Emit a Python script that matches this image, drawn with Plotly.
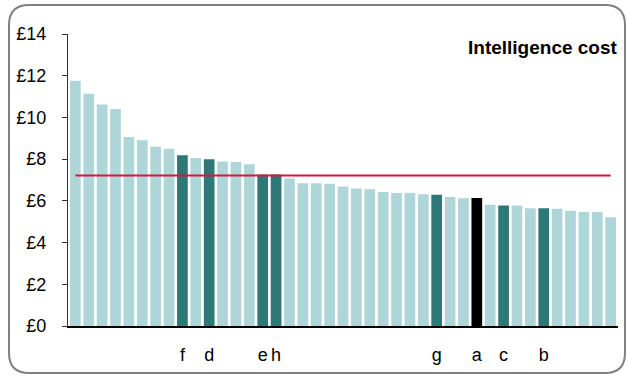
from plotly import graph_objects as go

# Cost per bar, sorted descending
costs = [
    11.76, 11.14, 10.62, 10.40, 9.06, 8.90, 8.59, 8.50, 8.19, 8.05,
    8.00, 7.89, 7.86, 7.76, 7.26, 7.26, 7.07, 6.85, 6.85, 6.82,
    6.69, 6.59, 6.56, 6.42, 6.38, 6.38, 6.32, 6.29, 6.18, 6.13,
    6.14, 5.81, 5.78, 5.78, 5.65, 5.65, 5.62, 5.52, 5.47, 5.47,
    5.22,
]
# Letter shown under highlighted bars ("" = none)
labels = [
    "", "", "", "", "", "", "", "", "f", "",
    "d", "", "", "", "e", "h", "", "", "", "",
    "", "", "", "", "", "", "", "g", "", "",
    "a", "", "c", "", "", "b", "", "", "", "",
    "",
]
# Highlight group: 0 = other, 1 = peer, 2 = selected
groups = [
    0, 0, 0, 0, 0, 0, 0, 0, 1, 0,
    1, 0, 0, 0, 1, 1, 0, 0, 0, 0,
    0, 0, 0, 0, 0, 0, 0, 1, 0, 0,
    2, 0, 1, 0, 0, 1, 0, 0, 0, 0,
    0,
]
average = 7.22
y_ticks = [0, 2, 4, 6, 8, 10, 12, 14]

group_colors = {0: "#AED5D8", 1: "#2E7878", 2: "#000000"}
positions = list(range(len(costs)))
bar_colors = [group_colors[g] for g in groups]

fig = go.Figure()
fig.add_trace(
    go.Bar(
        x=positions,
        y=costs,
        marker=dict(color=bar_colors, line=dict(width=0)),
        showlegend=False,
        hoverinfo="y",
    )
)
fig.add_trace(
    go.Scatter(
        x=[positions[0], positions[-1]],
        y=[average, average],
        mode="lines",
        line=dict(color="#DC143C", width=2),
        showlegend=False,
        hoverinfo="skip",
    )
)

tick_pos = [p for p, t in zip(positions, labels) if t]
tick_txt = [t for t in labels if t]

# plot area in pixels: x 68..618, y 34..326
L, R, T, B = 68, 618, 34, 326
W, H = R - L, B - T


def px(x):
    return (x - L) / W


def py(y):
    return (B - y) / H


# rounded frame around the whole chart
fx0, fx1, fy0, fy1, r = 9, 625, 5, 373, 20
path = (
    f"M {px(fx0 + r)},{py(fy0)} L {px(fx1 - r)},{py(fy0)} "
    f"Q {px(fx1)},{py(fy0)} {px(fx1)},{py(fy0 + r)} "
    f"L {px(fx1)},{py(fy1 - r)} Q {px(fx1)},{py(fy1)} {px(fx1 - r)},{py(fy1)} "
    f"L {px(fx0 + r)},{py(fy1)} Q {px(fx0)},{py(fy1)} {px(fx0)},{py(fy1 - r)} "
    f"L {px(fx0)},{py(fy0 + r)} Q {px(fx0)},{py(fy0)} {px(fx0 + r)},{py(fy0)} Z"
)

fig.update_layout(
    width=628,
    height=376,
    margin=dict(l=L, r=628 - R, t=T, b=376 - B),
    plot_bgcolor="white",
    paper_bgcolor="white",
    bargap=0.2,
    font=dict(family="Liberation Sans, Arial, sans-serif", color="black", size=18),
    xaxis=dict(
        range=[-0.55, len(costs) - 0.45],
        showgrid=False,
        zeroline=False,
        showline=True,
        linecolor="black",
        linewidth=1.5,
        tickmode="array",
        tickvals=tick_pos,
        ticktext=tick_txt,
        ticks="",
        ticklabelstandoff=12,
        tickfont=dict(size=18),
    ),
    yaxis=dict(
        range=[0, 14],
        tickvals=y_ticks,
        ticktext=[f"£{v}" for v in y_ticks],
        showgrid=False,
        zeroline=False,
        showline=True,
        linecolor="#333333",
        linewidth=1,
        ticks="outside",
        ticklen=5,
        tickcolor="#333333",
        ticklabelstandoff=12,
        tickfont=dict(size=18),
    ),
    shapes=[
        dict(
            type="path",
            xref="paper",
            yref="paper",
            path=path,
            line=dict(color="#808080", width=2),
            layer="below",
        )
    ],
    annotations=[
        dict(
            text="<b>Intelligence cost</b>",
            xref="paper",
            yref="paper",
            x=px(620),
            y=py(48),
            xanchor="right",
            yanchor="middle",
            showarrow=False,
            font=dict(size=19),
        )
    ],
)

# drop the default page margin so the figure sits at the window origin
fig.write_html(
    "out.html",
    config={"displayModeBar": False},
    post_script="document.body.style.margin='0';document.body.style.overflow='hidden';",
)
